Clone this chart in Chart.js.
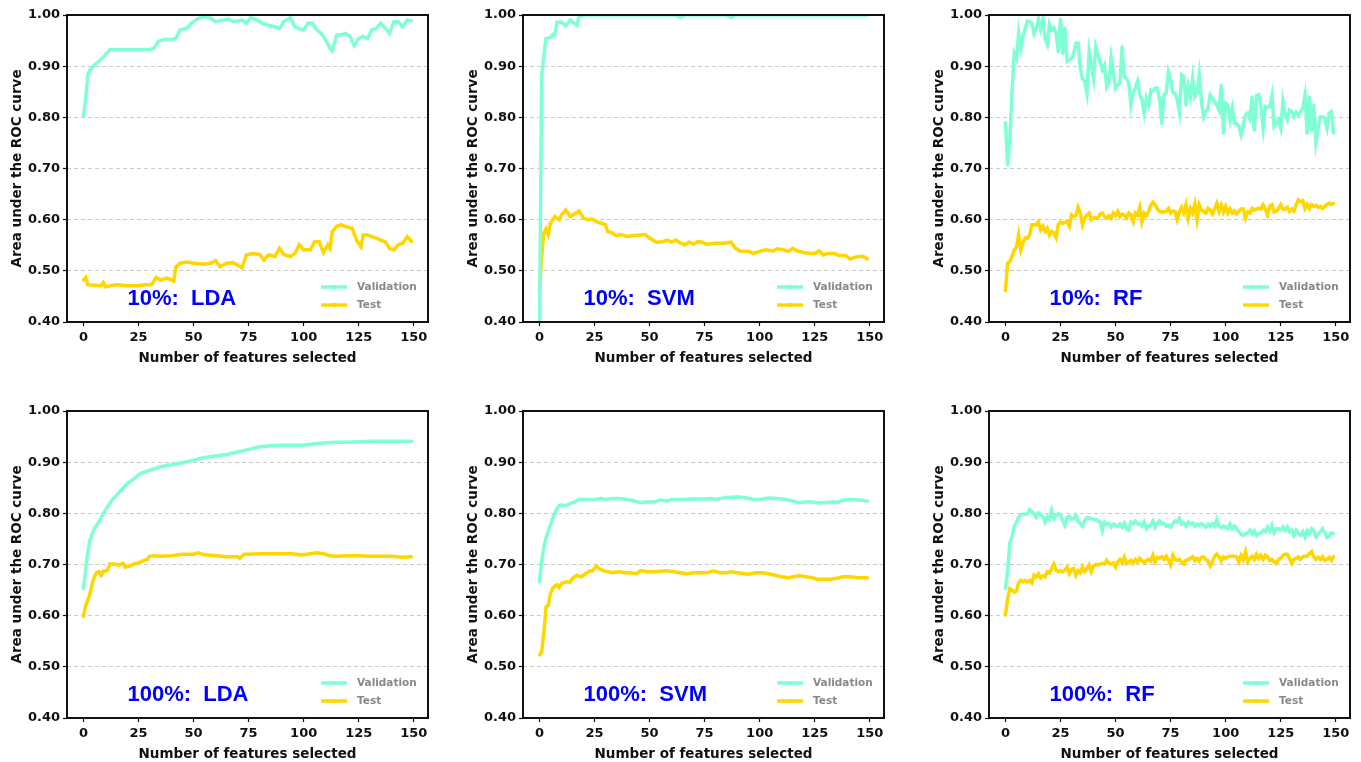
<!DOCTYPE html>
<html>
<head>
<meta charset="utf-8">
<title>AUC vs number of selected features</title>
<script src="https://cdn.jsdelivr.net/npm/chart.js@4.4.1/dist/chart.umd.min.js"></script>
<style>
  body { margin: 0; background: #fff; width: 1361px; height: 762px; position: relative; overflow: hidden; }
  canvas { position: absolute; }
</style>
</head>
<body>
<canvas id="p1" width="432" height="370" style="left:0px;top:0px"></canvas>
<canvas id="p2" width="432" height="370" style="left:456px;top:0px"></canvas>
<canvas id="p3" width="432" height="370" style="left:922px;top:0px"></canvas>
<canvas id="p4" width="432" height="370" style="left:0px;top:396px"></canvas>
<canvas id="p5" width="432" height="370" style="left:456px;top:396px"></canvas>
<canvas id="p6" width="432" height="370" style="left:922px;top:396px"></canvas>
<script>
const xTicks = [0, 25, 50, 75, 100, 125, 150];
const yTicks = [0.4, 0.5, 0.6, 0.7, 0.8, 0.9, 1.0];
const seriesNames = ["Validation", "Test"];
const rfFeatures = Array.from({ length: 150 }, (_, i) => i);

// 10%: LDA
const lda10ValX = [0,1,2,3,5,7,10,12,30,32,34,37,40,42,44,47,49,52,55,58,60,63,66,68,72,74,76,79,81,84,87,89,91,94,96,98,100,102,104,106,108,110,112,113,115,117,119,121,123,125,127,129,131,133,135,137,139,141,143,145,147,149];
const lda10ValY = [0.803,0.835,0.883,0.893,0.902,0.909,0.922,0.932,0.932,0.935,0.948,0.952,0.952,0.954,0.971,0.974,0.984,0.993,0.997,0.993,0.987,0.990,0.992,0.987,0.990,0.984,0.995,0.990,0.984,0.980,0.977,0.974,0.987,0.995,0.977,0.973,0.971,0.984,0.984,0.971,0.964,0.951,0.935,0.930,0.961,0.961,0.964,0.958,0.940,0.954,0.958,0.954,0.971,0.974,0.984,0.974,0.964,0.987,0.987,0.977,0.990,0.989];
const lda10TestX = [0,1,2,5,8,9,10,15,20,25,28,31,33,35,38,41,42,44,47,50,55,58,60,62,65,68,70,72,74,77,80,82,84,87,89,91,94,96,98,100,103,105,107,109,111,112,113,115,117,120,122,124,126,127,129,131,133,135,137,139,141,143,145,147,149];
const lda10TestY = [0.482,0.487,0.473,0.472,0.471,0.477,0.469,0.473,0.471,0.471,0.473,0.473,0.487,0.482,0.486,0.480,0.508,0.515,0.517,0.515,0.513,0.515,0.520,0.508,0.515,0.516,0.511,0.506,0.531,0.534,0.532,0.521,0.531,0.528,0.544,0.532,0.528,0.534,0.551,0.541,0.541,0.557,0.557,0.536,0.551,0.544,0.577,0.587,0.590,0.585,0.583,0.560,0.547,0.570,0.570,0.567,0.564,0.560,0.557,0.544,0.541,0.551,0.554,0.567,0.557];

// 10%: SVM
const svm10ValX = [0,1,2,3,5,6,7,8,10,12,14,17,18,20,62,64,66,85,87,89,149];
const svm10ValY = [0.35,0.880,0.919,0.954,0.956,0.962,0.961,0.986,0.986,0.979,0.990,0.980,0.997,1.0,1.0,0.995,1.0,1.0,0.995,1.0,1.0];
const svm10TestX = [0,1,2,3,4,5,7,9,10,12,14,17,18,20,22,24,26,28,30,31,33,35,37,40,43,46,48,50,53,56,58,60,62,64,66,68,70,72,74,76,80,84,87,89,91,95,97,100,103,106,108,111,113,115,117,120,123,125,127,129,131,134,136,139,141,143,145,147,149];
const svm10TestY = [0.461,0.525,0.574,0.582,0.571,0.593,0.606,0.600,0.609,0.619,0.606,0.614,0.617,0.603,0.600,0.601,0.596,0.593,0.590,0.577,0.574,0.569,0.571,0.567,0.569,0.570,0.571,0.564,0.556,0.557,0.560,0.556,0.560,0.554,0.551,0.556,0.552,0.557,0.556,0.552,0.554,0.554,0.556,0.544,0.539,0.538,0.534,0.538,0.541,0.539,0.543,0.541,0.538,0.544,0.539,0.536,0.534,0.534,0.539,0.531,0.534,0.534,0.530,0.530,0.523,0.526,0.528,0.528,0.523];

// 10%: RF
const rf10ValY = [
  0.790,0.707,0.756,0.850,0.925,0.915,0.964,0.935,0.958,0.974,
  0.988,0.987,0.984,0.964,0.974,0.992,0.973,0.992,0.954,0.943,
  0.982,0.971,0.975,0.964,0.928,0.992,0.925,0.975,0.909,0.912,
  0.915,0.925,0.945,0.945,0.896,0.876,0.870,0.847,0.928,0.902,
  0.876,0.938,0.922,0.909,0.893,0.902,0.860,0.870,0.917,0.889,
  0.857,0.863,0.867,0.938,0.880,0.876,0.867,0.824,0.850,0.857,
  0.870,0.844,0.834,0.808,0.837,0.824,0.853,0.852,0.857,0.857,
  0.834,0.788,0.844,0.847,0.889,0.873,0.850,0.847,0.834,0.810,
  0.883,0.880,0.824,0.860,0.840,0.876,0.840,0.847,0.883,0.831,
  0.801,0.811,0.818,0.844,0.837,0.831,0.824,0.814,0.863,0.769,
  0.827,0.824,0.795,0.818,0.788,0.788,0.782,0.766,0.785,0.805,
  0.808,0.798,0.840,0.775,0.842,0.844,0.821,0.779,0.821,0.819,
  0.821,0.842,0.782,0.788,0.795,0.779,0.831,0.805,0.795,0.814,
  0.811,0.801,0.810,0.805,0.811,0.818,0.842,0.769,0.840,0.775,
  0.824,0.752,0.779,0.801,0.801,0.798,0.779,0.808,0.811,0.769];
const rf10TestY = [
  0.461,0.515,0.518,0.528,0.541,0.546,0.570,0.541,0.556,0.564,
  0.564,0.570,0.590,0.590,0.590,0.596,0.580,0.587,0.577,0.583,
  0.570,0.577,0.574,0.565,0.590,0.595,0.593,0.595,0.596,0.587,
  0.609,0.606,0.608,0.624,0.613,0.590,0.603,0.609,0.613,0.600,
  0.603,0.604,0.603,0.611,0.613,0.606,0.603,0.608,0.603,0.613,
  0.608,0.616,0.606,0.611,0.609,0.603,0.613,0.609,0.596,0.613,
  0.609,0.624,0.596,0.613,0.608,0.616,0.629,0.634,0.629,0.621,
  0.616,0.615,0.615,0.616,0.622,0.613,0.617,0.616,0.600,0.615,
  0.624,0.613,0.629,0.603,0.622,0.613,0.630,0.600,0.629,0.619,
  0.616,0.613,0.622,0.619,0.611,0.621,0.632,0.616,0.628,0.615,
  0.626,0.613,0.621,0.613,0.617,0.611,0.616,0.621,0.621,0.603,
  0.615,0.613,0.622,0.619,0.621,0.622,0.621,0.629,0.621,0.609,
  0.626,0.629,0.615,0.616,0.622,0.629,0.621,0.621,0.624,0.616,
  0.621,0.617,0.629,0.639,0.635,0.637,0.622,0.630,0.622,0.629,
  0.626,0.628,0.624,0.626,0.622,0.626,0.630,0.632,0.630,0.632];

// 100%: LDA
const lda100ValX = [0,1,2,3,4,5,7,9,11,13,15,17,20,23,26,30,35,40,45,50,55,60,65,70,75,80,85,90,95,100,105,110,115,120,125,130,135,140,145,149];
const lda100ValY = [0.653,0.689,0.725,0.747,0.760,0.770,0.783,0.799,0.813,0.826,0.835,0.845,0.858,0.868,0.878,0.884,0.891,0.895,0.899,0.904,0.909,0.912,0.915,0.920,0.925,0.930,0.932,0.933,0.933,0.933,0.936,0.938,0.939,0.939,0.940,0.941,0.941,0.941,0.941,0.941];
const lda100TestX = [0,1,2,3,4,5,6,7,8,9,10,11,12,14,16,18,19,21,23,25,27,29,30,32,35,40,45,48,50,52,55,60,65,70,71,73,75,80,85,90,95,98,100,103,106,110,112,115,120,125,130,135,140,145,149];
const lda100TestY = [0.598,0.620,0.630,0.643,0.663,0.676,0.684,0.686,0.679,0.687,0.687,0.689,0.701,0.701,0.699,0.702,0.695,0.697,0.701,0.703,0.707,0.710,0.716,0.717,0.716,0.717,0.720,0.720,0.720,0.723,0.719,0.717,0.715,0.715,0.712,0.720,0.720,0.721,0.721,0.721,0.721,0.719,0.719,0.721,0.723,0.720,0.717,0.716,0.717,0.717,0.716,0.716,0.716,0.714,0.715];

// 100%: SVM
const svm100ValX = [0,1,2,3,4,5,6,7,8,9,10,12,14,16,18,20,22,25,28,30,33,36,40,43,46,49,52,55,58,60,65,70,75,78,80,85,90,93,97,100,104,108,112,115,118,121,124,127,130,133,136,138,141,145,149];
const svm100ValY = [0.666,0.705,0.734,0.751,0.764,0.777,0.790,0.801,0.809,0.815,0.816,0.815,0.819,0.822,0.827,0.827,0.827,0.827,0.829,0.827,0.829,0.829,0.827,0.824,0.821,0.822,0.822,0.826,0.824,0.827,0.827,0.828,0.828,0.829,0.827,0.831,0.832,0.831,0.827,0.827,0.830,0.829,0.827,0.824,0.821,0.822,0.822,0.820,0.821,0.822,0.822,0.826,0.827,0.826,0.824];
const svm100TestX = [0,1,2,3,4,5,6,7,8,9,10,12,14,15,17,19,21,23,24,26,27,29,31,33,36,39,41,44,46,49,52,55,58,61,64,67,70,73,76,79,82,85,87,90,93,95,98,101,104,107,110,113,115,118,121,124,126,129,132,135,138,141,145,149];
const svm100TestY = [0.523,0.529,0.565,0.617,0.620,0.643,0.653,0.658,0.660,0.655,0.663,0.666,0.666,0.673,0.679,0.676,0.682,0.688,0.688,0.697,0.692,0.688,0.686,0.684,0.686,0.684,0.684,0.682,0.688,0.686,0.686,0.687,0.688,0.686,0.684,0.682,0.684,0.684,0.684,0.687,0.684,0.684,0.686,0.684,0.682,0.681,0.684,0.684,0.682,0.679,0.676,0.674,0.676,0.678,0.676,0.674,0.671,0.671,0.671,0.673,0.676,0.676,0.674,0.674];

// 100%: RF
const rf100ValY = [
  0.653,0.686,0.742,0.754,0.773,0.783,0.792,0.796,0.798,0.798,
  0.799,0.807,0.803,0.799,0.792,0.801,0.798,0.794,0.783,0.793,
  0.788,0.806,0.790,0.796,0.799,0.796,0.786,0.777,0.792,0.794,
  0.788,0.790,0.796,0.785,0.780,0.775,0.786,0.792,0.790,0.790,
  0.788,0.788,0.785,0.783,0.767,0.783,0.779,0.780,0.773,0.779,
  0.777,0.775,0.779,0.773,0.781,0.770,0.767,0.783,0.780,0.785,
  0.779,0.779,0.775,0.783,0.770,0.775,0.777,0.785,0.773,0.781,
  0.785,0.779,0.780,0.775,0.777,0.773,0.780,0.785,0.783,0.790,
  0.779,0.781,0.775,0.783,0.779,0.781,0.775,0.779,0.777,0.780,
  0.777,0.773,0.779,0.775,0.780,0.775,0.788,0.775,0.772,0.775,
  0.773,0.770,0.779,0.770,0.775,0.770,0.764,0.759,0.757,0.760,
  0.762,0.767,0.760,0.766,0.757,0.760,0.762,0.767,0.764,0.773,
  0.766,0.777,0.762,0.770,0.770,0.767,0.773,0.766,0.773,0.764,
  0.767,0.757,0.767,0.760,0.757,0.764,0.754,0.766,0.760,0.770,
  0.767,0.754,0.760,0.764,0.770,0.762,0.753,0.755,0.762,0.760];
const rf100TestY = [
  0.601,0.633,0.653,0.650,0.646,0.648,0.664,0.669,0.666,0.669,
  0.666,0.669,0.664,0.679,0.676,0.682,0.674,0.678,0.676,0.686,
  0.684,0.692,0.701,0.689,0.686,0.688,0.686,0.689,0.695,0.682,
  0.690,0.692,0.679,0.688,0.684,0.695,0.686,0.692,0.699,0.686,
  0.697,0.700,0.699,0.701,0.702,0.701,0.708,0.702,0.701,0.703,
  0.695,0.705,0.710,0.703,0.714,0.702,0.705,0.708,0.703,0.710,
  0.705,0.712,0.708,0.703,0.708,0.710,0.707,0.718,0.705,0.714,
  0.712,0.715,0.710,0.716,0.708,0.699,0.718,0.710,0.708,0.710,
  0.705,0.701,0.708,0.710,0.712,0.715,0.708,0.712,0.707,0.714,
  0.715,0.710,0.707,0.697,0.705,0.716,0.720,0.715,0.707,0.715,
  0.712,0.715,0.716,0.716,0.716,0.715,0.705,0.718,0.710,0.725,
  0.705,0.712,0.716,0.710,0.720,0.712,0.718,0.710,0.718,0.715,
  0.708,0.710,0.705,0.702,0.710,0.712,0.718,0.720,0.720,0.712,
  0.702,0.710,0.712,0.715,0.710,0.715,0.716,0.716,0.721,0.725,
  0.715,0.710,0.714,0.710,0.715,0.708,0.710,0.714,0.708,0.716];

const VAL_COLOR = "#7fffd4";
const TEST_COLOR = "#ffd700";

Chart.defaults.font.family = "'DejaVu Sans', sans-serif";

const toPoints = (xs, ys) => xs.map((x, i) => ({ x: x, y: ys[i] }));

// draws the frame, the panel label and the legend inside the axes
const decorations = {
    id: "decorations",
    afterDatasetsDraw(chart, args, opts) {
        const { ctx, chartArea: a, scales } = chart;
        ctx.save();
        ctx.fillStyle = "#0000ff";
        ctx.font = "bold 22px 'Liberation Sans'";
        ctx.textBaseline = "middle";
        ctx.textAlign = "left";
        ctx.fillText(opts.label, scales.x.getPixelForValue(20), scales.y.getPixelForValue(0.445));

        const rows = [[seriesNames[0], VAL_COLOR, 35], [seriesNames[1], TEST_COLOR, 17]];
        rows.forEach(([txt, col, dy]) => {
            const yy = a.bottom - dy;
            ctx.strokeStyle = col;
            ctx.lineWidth = 3.5;
            ctx.beginPath();
            ctx.moveTo(a.right - 107, yy);
            ctx.lineTo(a.right - 81, yy);
            ctx.stroke();
            ctx.fillStyle = col;
            ctx.beginPath();
            ctx.arc(a.right - 94, yy, 2.2, 0, Math.PI * 2);
            ctx.fill();
            ctx.fillStyle = "#888888";
            ctx.font = "bold 10.5px 'DejaVu Sans'";
            ctx.fillText(txt, a.right - 71, yy);
        });

        ctx.strokeStyle = "#111111";
        ctx.lineWidth = 2;
        ctx.strokeRect(a.left, a.top, a.right - a.left, a.bottom - a.top);
        ctx.restore();
    },
};

function makePanel(id, label, valX, valY, testX, testY) {
    return new Chart(document.getElementById(id), {
        type: "line",
        data: {
            datasets: [
                {
                    label: seriesNames[0],
                    data: toPoints(valX, valY),
                    borderColor: VAL_COLOR,
                    backgroundColor: VAL_COLOR,
                    borderWidth: 3.5,
                    pointRadius: 1.6,
                    pointBorderWidth: 0,
                    tension: 0,
                    clip: 0,
                },
                {
                    label: seriesNames[1],
                    data: toPoints(testX, testY),
                    borderColor: TEST_COLOR,
                    backgroundColor: TEST_COLOR,
                    borderWidth: 3.5,
                    pointRadius: 1.6,
                    pointBorderWidth: 0,
                    tension: 0,
                    clip: 0,
                },
            ],
        },
        options: {
            responsive: false,
            animation: false,
            devicePixelRatio: 1,
            layout: { padding: { top: 15, right: 3, left: 0, bottom: 0 } },
            plugins: {
                legend: { display: false },
                tooltip: { enabled: false },
                decorations: { label: label },
            },
            scales: {
                x: {
                    type: "linear",
                    min: -7.45,
                    max: 156.45,
                    afterBuildTicks: (s) => { s.ticks = xTicks.map((v) => ({ value: v })); },
                    afterFit: (s) => { s.height = 48; },
                    ticks: {
                        autoSkip: false,
                        maxRotation: 0,
                        padding: 4,
                        color: "#111",
                        font: { size: 13, weight: "bold" },
                    },
                    grid: { drawOnChartArea: false, drawTicks: true, tickLength: 4, tickColor: "#111", tickWidth: 1.2 },
                    border: { display: false },
                    title: {
                        display: true,
                        text: "Number of features selected",
                        color: "#111",
                        font: { size: 13.5, weight: "bold" },
                        padding: { top: 0, bottom: 3 },
                    },
                },
                y: {
                    min: 0.4,
                    max: 1.0,
                    afterBuildTicks: (s) => { s.ticks = yTicks.map((v) => ({ value: v })); },
                    afterFit: (s) => { s.width = 67; },
                    ticks: {
                        padding: 3,
                        color: "#111",
                        font: { size: 13, weight: "bold" },
                        callback: (v) => v.toFixed(2),
                    },
                    grid: { color: "#cccccc", lineWidth: 1, tickLength: 4, tickColor: "#111", tickWidth: 1.2, tickBorderDash: [] },
                    border: { display: false, dash: [4, 3] },
                    title: {
                        display: true,
                        text: "Area under the ROC curve",
                        color: "#111",
                        font: { size: 13.5, weight: "bold" },
                        padding: { top: 9, bottom: 0 },
                    },
                },
            },
        },
        plugins: [decorations],
    });
}

makePanel("p1", "10%:  LDA", lda10ValX, lda10ValY, lda10TestX, lda10TestY);
makePanel("p2", "10%:  SVM", svm10ValX, svm10ValY, svm10TestX, svm10TestY);
makePanel("p3", "10%:  RF", rfFeatures, rf10ValY, rfFeatures, rf10TestY);
makePanel("p4", "100%:  LDA", lda100ValX, lda100ValY, lda100TestX, lda100TestY);
makePanel("p5", "100%:  SVM", svm100ValX, svm100ValY, svm100TestX, svm100TestY);
makePanel("p6", "100%:  RF", rfFeatures, rf100ValY, rfFeatures, rf100TestY);
</script>
</body>
</html>
